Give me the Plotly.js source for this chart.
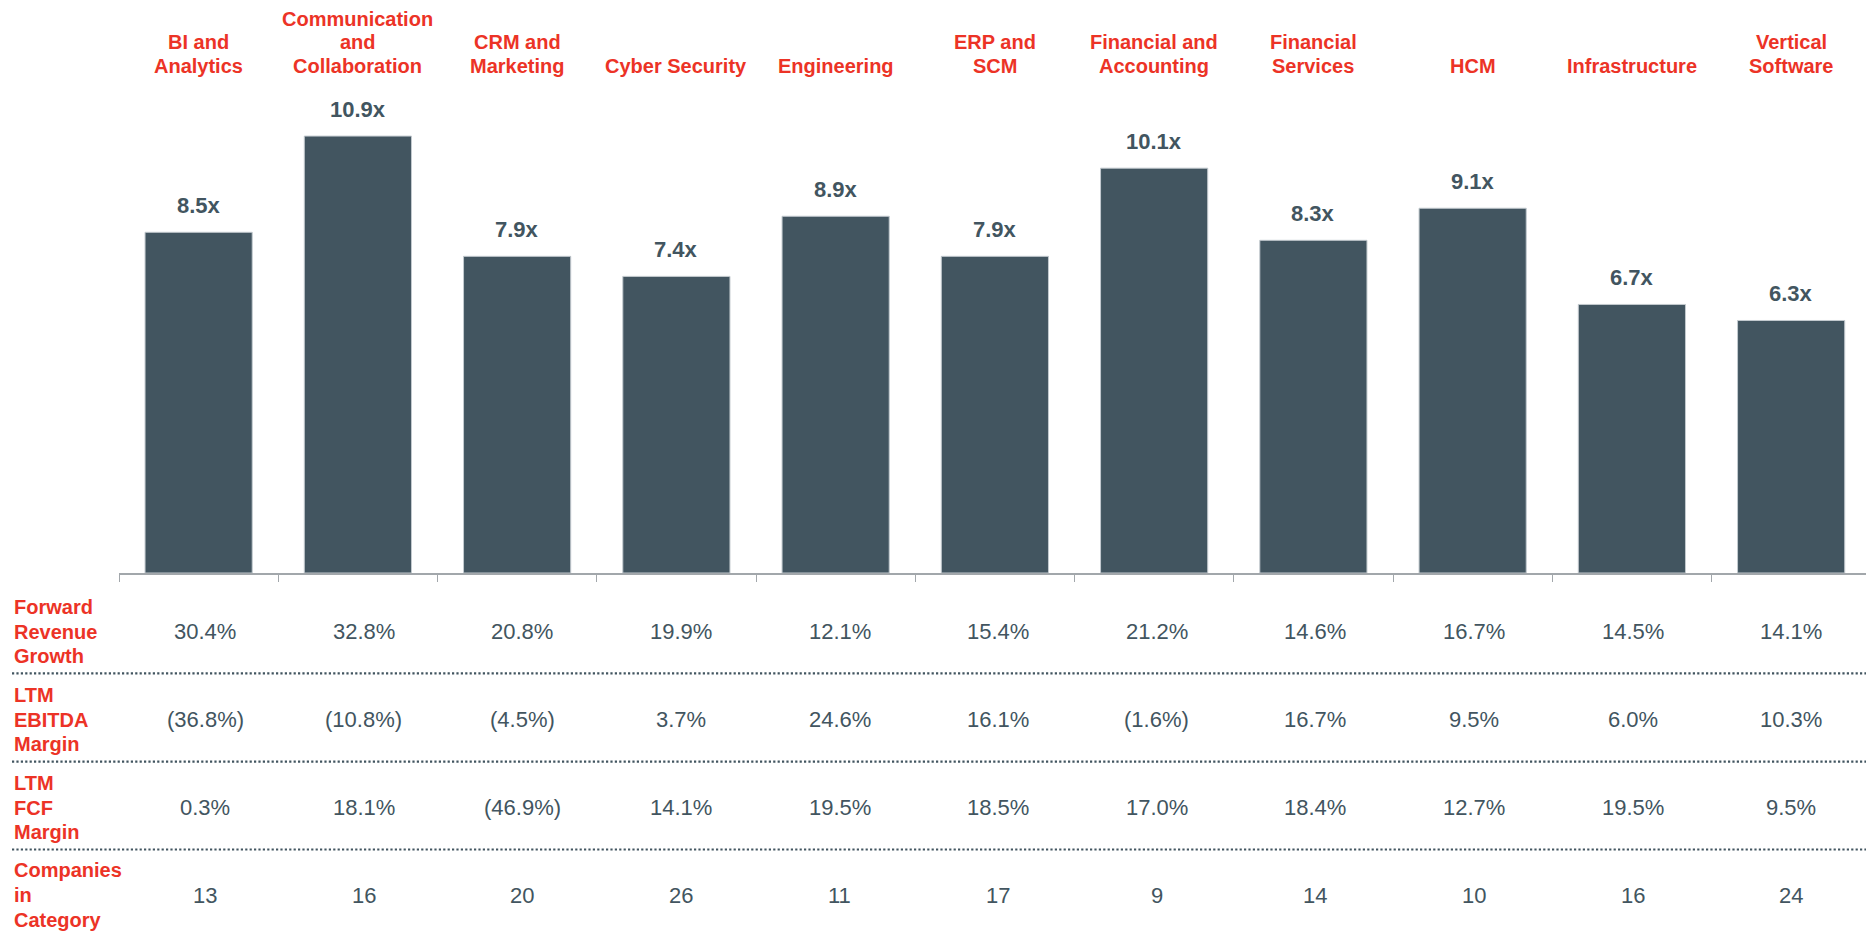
<!DOCTYPE html>
<html>
<head>
<meta charset="utf-8">
<script src="https://cdn.plot.ly/plotly-3.0.1.min.js"></script>
<style>
  html, body { margin: 0; padding: 0; background: #ffffff; }
  #chart { width: 1866px; height: 932px; }
</style>
</head>
<body>
<div id="chart"></div>
<script>
// ---------------- DATA ----------------
const categories = [
  "BI and<br>Analytics",
  "Communication<br>and<br>Collaboration",
  "CRM and<br>Marketing",
  "Cyber Security",
  "Engineering",
  "ERP and<br>SCM",
  "Financial and<br>Accounting",
  "Financial<br>Services",
  "HCM",
  "Infrastructure",
  "Vertical<br>Software"
];
const evRevenueMultiple = [8.5, 10.9, 7.9, 7.4, 8.9, 7.9, 10.1, 8.3, 9.1, 6.7, 6.3];

const rowLabels = [
  "Forward<br>Revenue<br>Growth",
  "LTM<br>EBITDA<br>Margin",
  "LTM<br>FCF<br>Margin",
  "Companies<br>in<br>Category"
];
const forwardRevenueGrowth = ["30.4%", "32.8%", "20.8%", "19.9%", "12.1%", "15.4%", "21.2%", "14.6%", "16.7%", "14.5%", "14.1%"];
const ltmEbitdaMargin      = ["(36.8%)", "(10.8%)", "(4.5%)", "3.7%", "24.6%", "16.1%", "(1.6%)", "16.7%", "9.5%", "6.0%", "10.3%"];
const ltmFcfMargin         = ["0.3%", "18.1%", "(46.9%)", "14.1%", "19.5%", "18.5%", "17.0%", "18.4%", "12.7%", "19.5%", "9.5%"];
const companiesInCategory  = ["13", "16", "20", "26", "11", "17", "9", "14", "10", "16", "24"];
const tableRows = [forwardRevenueGrowth, ltmEbitdaMargin, ltmFcfMargin, companiesInCategory];

// ---------------- STYLE / LAYOUT ----------------
const W = 1866, H = 932;
const M = { l: 119, r: 0, t: 92, b: 359 };
const plotW = W - M.l - M.r;
const plotH = H - M.t - M.b;
const baseY = H - M.b;             // pixel y of the axis
const RED = "#EC3326";
const SLATE = "#425560";
const FONT = "Arial, 'Liberation Sans', sans-serif";

const xIdx = categories.map((_, i) => i);

const annotations = [];
const shapes = [];

// Category headers (per line, bottom-aligned)
const headerLastLine = 65.5, headerSpacing = 23.3;
categories.forEach((c, i) => {
  const lines = c.split("<br>");
  lines.forEach((ln, k) => {
    const pix = headerLastLine - (lines.length - 1 - k) * headerSpacing;
    annotations.push({
      x: i, xref: "x", y: 1, yref: "paper",
      yanchor: "middle", xanchor: "center",
      yshift: M.t - pix,
      text: "<b>" + ln + "</b>", showarrow: false,
      font: { family: FONT, size: 20, color: RED }
    });
  });
});

// Bar value labels
evRevenueMultiple.forEach((v, i) => {
  annotations.push({
    x: i, xref: "x", y: v, yref: "y",
    yanchor: "middle", xanchor: "center", yshift: 27,
    text: "<b>" + v.toFixed(1) + "x</b>", showarrow: false,
    font: { family: FONT, size: 22, color: SLATE }
  });
});

// Table rows
const rowCenters = [631.5, 719.5, 807.5, 895];
const rowLineSpacing = 24.8;
const labelX = (12 - M.l) / plotW;
rowLabels.forEach((lab, r) => {
  const lines = lab.split("<br>");
  lines.forEach((ln, k) => {
    const pix = rowCenters[r] + (k - 1) * rowLineSpacing;
    annotations.push({
      x: labelX, xref: "paper", y: 0, yref: "paper",
      xanchor: "left", yanchor: "middle", yshift: baseY - pix,
      text: "<b>" + ln + "</b>", showarrow: false,
      font: { family: FONT, size: 20, color: RED }
    });
  });
  tableRows[r].forEach((val, i) => {
    annotations.push({
      x: i, xref: "x", y: 0, yref: "paper",
      xanchor: "center", yanchor: "middle",
      yshift: baseY - rowCenters[r], xshift: 6.5 - 0.65 * i,
      text: val, showarrow: false,
      font: { family: FONT, size: 22, color: SLATE }
    });
  });
});

// Dotted separators
[673.3, 761.7, 849.5].forEach(py => {
  const yp = (baseY - py) / plotH;
  shapes.push({
    type: "line", xref: "paper", yref: "paper",
    x0: (12 - M.l) / plotW, x1: 1.0, y0: yp, y1: yp,
    line: { color: SLATE, width: 2.2, dash: "2.2px,2.2px" }
  });
});

const trace = {
  type: "bar",
  x: xIdx,
  y: evRevenueMultiple,
  width: 0.673,
  marker: { color: SLATE, line: { color: "#c3cacf", width: 1 } },
  hoverinfo: "skip",
  cliponaxis: false
};

const layout = {
  width: W, height: H,
  margin: M,
  paper_bgcolor: "#ffffff",
  plot_bgcolor: "#ffffff",
  showlegend: false,
  font: { family: FONT },
  xaxis: {
    type: "linear",
    range: [-0.5, 10.47],
    showgrid: false, zeroline: false,
    showline: true, linecolor: "#a2a7ab", linewidth: 1.5,
    tickmode: "array",
    tickvals: categories.map((_, i) => i - 0.5).concat([categories.length - 0.5]),
    ticks: "outside", ticklen: 7, tickwidth: 1, tickcolor: "#a2a7ab",
    showticklabels: false, fixedrange: true
  },
  yaxis: {
    range: [0, 12],
    visible: false, showgrid: false, zeroline: false, fixedrange: true
  },
  annotations: annotations,
  shapes: shapes
};

Plotly.newPlot("chart", [trace], layout, { displayModeBar: false, staticPlot: true });
</script>
</body>
</html>
